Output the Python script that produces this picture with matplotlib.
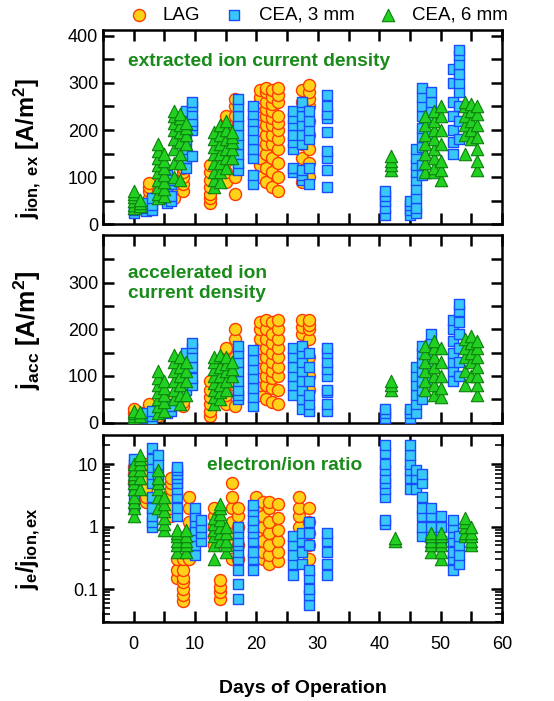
import numpy as np
import matplotlib.pyplot as plt
from matplotlib.ticker import MultipleLocator, LogLocator, NullFormatter, FixedLocator

plt.rcParams['font.family'] = ['Liberation Sans', 'DejaVu Sans']
plt.rcParams['mathtext.fontset'] = 'custom'
plt.rcParams['mathtext.rm'] = 'Liberation Sans'
plt.rcParams['mathtext.bf'] = 'Liberation Sans:bold'
plt.rcParams['mathtext.it'] = 'Liberation Sans:italic'

# ---- panel 1: extracted ion current density [A/m^2] ----
lag_days1 = [2.5, 4, 6.5, 8, 12.5, 15, 16.5, 20.5, 21.5, 22.5, 23.5, 27.5, 28.5]
lag_jex = [[55, 70, 80, 88], [60, 70], [55, 75, 95], [70, 85, 100, 110, 120],
           [45, 55, 65, 80, 95, 110, 125],
           [90, 110, 135, 160, 180, 200, 215, 230],
           [65, 100, 160, 200, 230, 250, 265],
           [100, 125, 140, 160, 180, 200, 220, 235, 250, 260, 270, 285],
           [90, 120, 150, 170, 190, 210, 230, 245, 260, 280, 290],
           [80, 110, 140, 170, 190, 210, 225, 240, 255, 270, 285],
           [70, 100, 130, 160, 180, 200, 215, 230, 260, 275, 290],
           [90, 110, 140, 170, 200, 230, 260, 285],
           [100, 130, 160, 190, 220, 250, 265, 280, 295]]

c3_days1 = [0, 2, 3, 5.5, 6, 8.5, 9.5, 17, 19.5, 26, 27.5, 28.5, 31.5,
            41, 45, 46, 47, 48.5, 52, 53]
c3_jex = [[25, 30], [28, 35, 45], [30, 40, 55], [45, 55, 65, 75, 90, 105], [50, 60, 85, 95],
          [120, 140, 160, 180, 200, 220, 240], [145, 200, 210, 220, 235, 250, 260],
          [115, 130, 150, 170, 190, 210, 230, 250, 265],
          [85, 105, 140, 160, 180, 200, 220, 235, 250],
          [110, 120, 160, 175, 190, 210, 225, 240],
          [95, 105, 115, 170, 190, 210, 230, 250, 260],
          [85, 120, 180, 200, 220, 240],
          [80, 115, 140, 155, 195, 225, 235, 250, 275],
          [20, 35, 50, 60, 70], [20, 30, 40, 50],
          [25, 35, 55, 75, 95, 110, 125, 140, 160],
          [105, 125, 165, 185, 205, 230, 250, 270, 290],
          [190, 220, 240, 260, 280],
          [150, 175, 200, 230, 260, 300, 330],
          [180, 220, 250, 280, 300, 320, 340, 360, 370]]

c6_days1 = [0, 1, 4, 5, 6.5, 7.5, 8.5, 13, 14, 15, 16, 42, 47.5, 49, 50, 54, 55, 56]
c6_jex = [[35, 42, 50, 58, 65, 70], [38, 45, 52],
          [55, 65, 80, 95, 110, 125, 140, 155, 170], [60, 75, 90, 105, 120, 135, 150],
          [100, 130, 160, 180, 200, 215, 230, 240], [95, 130, 150, 175, 195, 210, 225, 235],
          [170, 190, 205, 215],
          [80, 95, 110, 130, 150, 165, 180, 195], [90, 110, 130, 150, 170, 190, 210],
          [120, 140, 160, 180, 200, 220], [140, 160, 175, 185, 195],
          [115, 125, 135, 145],
          [110, 130, 150, 170, 190, 210, 230], [110, 120, 140, 160, 180, 200, 220, 240],
          [95, 115, 135, 170, 200, 230, 250],
          [150, 190, 210, 230, 250, 260], [180, 200, 220, 240, 255],
          [115, 135, 160, 185, 210, 235, 250]]

# ---- panel 2: accelerated ion current density [A/m^2] ----
lag_days2 = [0, 1.5, 2.5, 4, 6.5, 8, 12.5, 15, 16.5, 20.5, 21.5, 22.5, 23.5, 27.5, 28.5]
lag_jacc = [[20, 30], [10, 20], [25, 35, 40], [15, 25], [40, 55], [35, 45, 60, 70],
            [15, 25, 40, 55, 70, 90], [40, 60, 80, 100, 120, 150, 160],
            [35, 80, 140, 180, 200],
            [60, 80, 100, 120, 140, 160, 180, 200, 215],
            [50, 80, 100, 120, 140, 160, 180, 200, 220],
            [45, 75, 95, 110, 130, 150, 170, 190, 215],
            [40, 70, 100, 120, 140, 160, 180, 200, 220],
            [60, 90, 120, 160, 190, 205, 220],
            [70, 100, 140, 180, 200, 210, 220]]

c3_days2 = [0, 2, 3, 5.5, 6, 8.5, 9.5, 17, 19.5, 26, 27.5, 28.5, 31.5,
            41, 45, 46, 47, 48.5, 52, 53]
c3_jacc = [[0, 5], [5, 10, 20], [5, 15, 25], [20, 30, 40], [25, 35],
           [70, 90, 110, 130, 150], [80, 95, 120, 140, 160, 170],
           [50, 60, 70, 90, 110, 130, 150, 165], [35, 55, 75, 95, 115, 135, 155],
           [60, 80, 100, 120, 140, 160], [30, 50, 70, 90, 110, 130, 150, 165],
           [25, 40, 60, 90, 120, 150], [25, 40, 65, 70, 100, 115, 130, 150, 160],
           [10, 20, 30], [10, 20, 30], [20, 40, 60, 80, 100, 120],
           [50, 70, 90, 110, 130, 150, 165], [90, 110, 130, 150, 170, 190],
           [90, 110, 130, 150, 175, 200, 220], [100, 130, 160, 190, 215, 240, 255]]

c6_days2 = [0, 1, 4, 5, 6.5, 7.5, 8.5, 13, 14, 15, 16, 42, 47.5, 49, 50, 54, 55, 56]
c6_jacc = [[10, 15, 20, 25], [15, 22], [20, 35, 50, 65, 80, 95, 110], [25, 45, 60, 75, 90],
           [50, 70, 90, 110, 130, 145], [40, 60, 80, 100, 120, 140], [60, 90, 110, 130],
           [40, 55, 70, 85, 100, 115, 130, 140], [50, 65, 80, 100, 120, 145],
           [70, 90, 110, 125, 140], [100, 115, 130],
           [70, 80, 90],
           [70, 90, 110, 130, 150, 165], [60, 80, 100, 120, 140, 160, 175],
           [55, 75, 100, 130, 160], [80, 110, 140, 160, 180],
           [100, 130, 150, 170, 185], [60, 80, 100, 120, 140, 160, 175]]

# ---- panel 3: electron/ion ratio ----
lag_days3 = [0, 2, 6, 7, 8, 9, 13, 14, 16, 17, 20, 21, 22, 23.5, 27, 28.5]
lag_ratio = [[5, 7, 9], [2.5, 3, 4, 6, 8, 10], [1.5, 2, 3, 4, 5, 6], [0.15, 0.2, 0.3],
             [0.065, 0.08, 0.1, 0.13, 0.15, 0.2, 0.3], [0.3, 0.5, 0.8, 1.2, 2, 3],
             [0.5, 0.7, 1, 1.5, 2], [0.07, 0.09, 0.11, 0.14],
             [0.3, 0.5, 0.8, 1.2, 2, 3, 5], [0.3, 0.5, 1, 1.5, 2],
             [0.3, 0.4, 0.5, 0.8, 1.2, 2, 3], [0.3, 0.4, 0.6, 1, 1.5, 2.5],
             [0.25, 0.35, 0.5, 0.8, 1.2, 2, 2.5], [0.28, 0.4, 0.6, 0.9, 1.4, 2.3],
             [0.5, 0.7, 1, 1.5, 2, 3], [0.3, 0.5, 0.8, 1.2, 2]]

c3_days3 = [0, 3, 4, 7, 10, 11, 17, 19.5, 26, 27.5, 28.5, 31.5,
            41, 45, 46, 47, 48.5, 50, 52, 53]
c3_ratio = [[2, 3, 4, 5, 6, 8, 10, 12], [1.0, 1.2, 1.5, 2, 3, 5, 7, 9, 12, 18],
            [5, 7, 10, 14], [1.5, 2, 3, 4, 5, 6, 7, 8, 9],
            [0.35, 0.5, 0.7, 0.9, 1.2, 1.5, 2], [0.6, 0.8, 1.0, 1.3],
            [0.07, 0.12, 0.2, 0.3, 0.4, 0.5, 0.6, 0.8, 1.0],
            [0.2, 0.3, 0.4, 0.6, 0.8, 1.0, 1.3, 1.8, 2.2],
            [0.17, 0.25, 0.35, 0.5, 0.7], [0.25, 0.4, 0.6, 0.8],
            [0.055, 0.08, 0.1, 0.15, 0.2, 0.5, 0.8, 1.2],
            [0.17, 0.25, 0.4, 0.6, 0.8],
            [1.1, 1.3, 3, 4, 5, 6, 8, 10, 15, 20], [4, 6, 8, 10, 14, 20], [4, 6, 8],
            [0.7, 1, 1.5, 2, 3, 5, 7], [0.5, 0.7, 1, 1.5, 2], [0.6, 1, 1.5],
            [0.2, 0.3, 0.4, 0.6, 0.8, 1.0, 1.3], [0.25, 0.35, 0.5, 0.7]]

c6_days3 = [0, 1, 4, 5, 7, 8.5, 13, 14, 15, 42.5, 48.5, 50, 54, 55]
c6_ratio = [[1.5, 2, 2.5, 3, 4, 5, 6, 7, 8, 10], [4, 6, 8, 10, 12, 14],
            [2, 3, 4, 5, 6, 8], [0.9, 1.1, 1.4, 1.8, 2.3, 3],
            [0.4, 0.5, 0.6, 0.7, 0.8, 0.9], [0.4, 0.5, 0.6, 0.7, 0.9],
            [0.3, 0.5, 0.7, 0.9, 1.1, 1.4], [0.6, 0.8, 1.0, 1.3, 1.6, 2.0, 2.3],
            [0.4, 0.5, 0.6, 0.8, 1.0], [0.6, 0.65],
            [0.4, 0.5, 0.6, 0.7, 0.8], [0.3, 0.4, 0.5, 0.6, 0.7, 0.8],
            [0.7, 0.8, 1.0, 1.2, 1.4], [0.5, 0.6, 0.7, 0.8, 1.0]]

green_txt = '#1a8a1a'
lag_style = dict(marker='o', s=75, facecolor='#ffd21a', edgecolor='#ff3a00', linewidths=1.0)
c3_style = dict(marker='s', s=58, facecolor='#38c8f8', edgecolor='#1a4cff', linewidths=1.0)
c6_style = dict(marker='^', s=80, facecolor='#22d022', edgecolor='#0c800c', linewidths=0.8)


def flat(days, vals):
    xs, ys = [], []
    for d, v in zip(days, vals):
        xs += [d] * len(v)
        ys += list(v)
    return xs, ys


fig = plt.figure(figsize=(5.54, 7.01), dpi=100)
ax1 = fig.add_axes([0.186, 0.680, 0.720, 0.277])
ax2 = fig.add_axes([0.186, 0.397, 0.720, 0.268])
ax3 = fig.add_axes([0.186, 0.113, 0.720, 0.266])

sets = [(ax1, (lag_days1, lag_jex), (c3_days1, c3_jex), (c6_days1, c6_jex)),
        (ax2, (lag_days2, lag_jacc), (c3_days2, c3_jacc), (c6_days2, c6_jacc)),
        (ax3, (lag_days3, lag_ratio), (c3_days3, c3_ratio), (c6_days3, c6_ratio))]

handles = []
for ax, lag, c3, c6 in sets:
    h1 = ax.scatter(*flat(*lag), zorder=2, **lag_style)
    h2 = ax.scatter(*flat(*c3), zorder=3, **c3_style)
    h3 = ax.scatter(*flat(*c6), zorder=4, **c6_style)
    handles = [h1, h2, h3]

for ax in (ax1, ax2, ax3):
    ax.set_xlim(-5, 60)
    ax.xaxis.set_major_locator(MultipleLocator(10))
    ax.xaxis.set_minor_locator(MultipleLocator(5))
    ax.tick_params(which='both', direction='in', top=True, right=True, width=1.8, labelsize=13)
    ax.tick_params(which='major', length=8)
    ax.tick_params(which='minor', length=8)
    for sp in ax.spines.values():
        sp.set_linewidth(1.8)

for ax in (ax1, ax2):
    ax.tick_params(labelbottom=False)
ax3.tick_params(axis='x', which='major', pad=10)

ax1.set_ylim(0, 412)
ax1.set_yticks([0, 100, 200, 300, 400])
ax1.yaxis.set_minor_locator(FixedLocator([50, 150, 250, 350]))
ax2.set_ylim(0, 402)
ax2.set_yticks([0, 100, 200, 300])
ax2.yaxis.set_minor_locator(FixedLocator([50, 150, 250, 350]))

ax3.set_yscale('log')
ax3.set_ylim(0.03, 29)
ax3.set_yticks([0.1, 1, 10])
ax3.set_yticklabels(['0.1', '1', '10'])
ax3.yaxis.set_minor_locator(LogLocator(base=10, subs=np.arange(2, 10)))
ax3.yaxis.set_minor_formatter(NullFormatter())
ax3.tick_params(axis='y', which='minor', length=5, width=1.2)

ax1.set_ylabel(r'$\mathbf{j_{ion,\ ex}}$ [A/m$^\mathbf{2}$]', fontsize=17, fontweight='bold')
ax2.set_ylabel(r'$\mathbf{j_{acc}}$ [A/m$^\mathbf{2}$]', fontsize=18, fontweight='bold')
ax3.set_ylabel(r'$\mathbf{j_e/j_{ion,ex}}$', fontsize=17, fontweight='bold')
ax1.yaxis.set_label_coords(-0.15, 0.39)
ax2.yaxis.set_label_coords(-0.15, 0.49)
ax3.yaxis.set_label_coords(-0.15, 0.39)
ax3.set_xlabel('Days of Operation', fontsize=14, fontweight='bold', labelpad=20)

ax1.text(-0.9, 345, 'extracted ion current density', color=green_txt,
         fontsize=13.8, fontweight='bold', va='center')
ax2.text(-0.9, 298, 'accelerated ion\ncurrent density', color=green_txt,
         fontsize=13.8, fontweight='bold', va='center', linespacing=1.25)
ax3.text(12.0, 9.5, 'electron/ion ratio', color=green_txt,
         fontsize=13.8, fontweight='bold', va='center')

fig.legend(handles, ['LAG', 'CEA, 3 mm', 'CEA, 6 mm'], loc='center',
           bbox_to_anchor=(0.567, 0.978), ncol=3, frameon=False, fontsize=13.5,
           handletextpad=0.3, columnspacing=0.8, borderaxespad=0, markerscale=1.0)

fig.savefig('out.png', dpi=100)
